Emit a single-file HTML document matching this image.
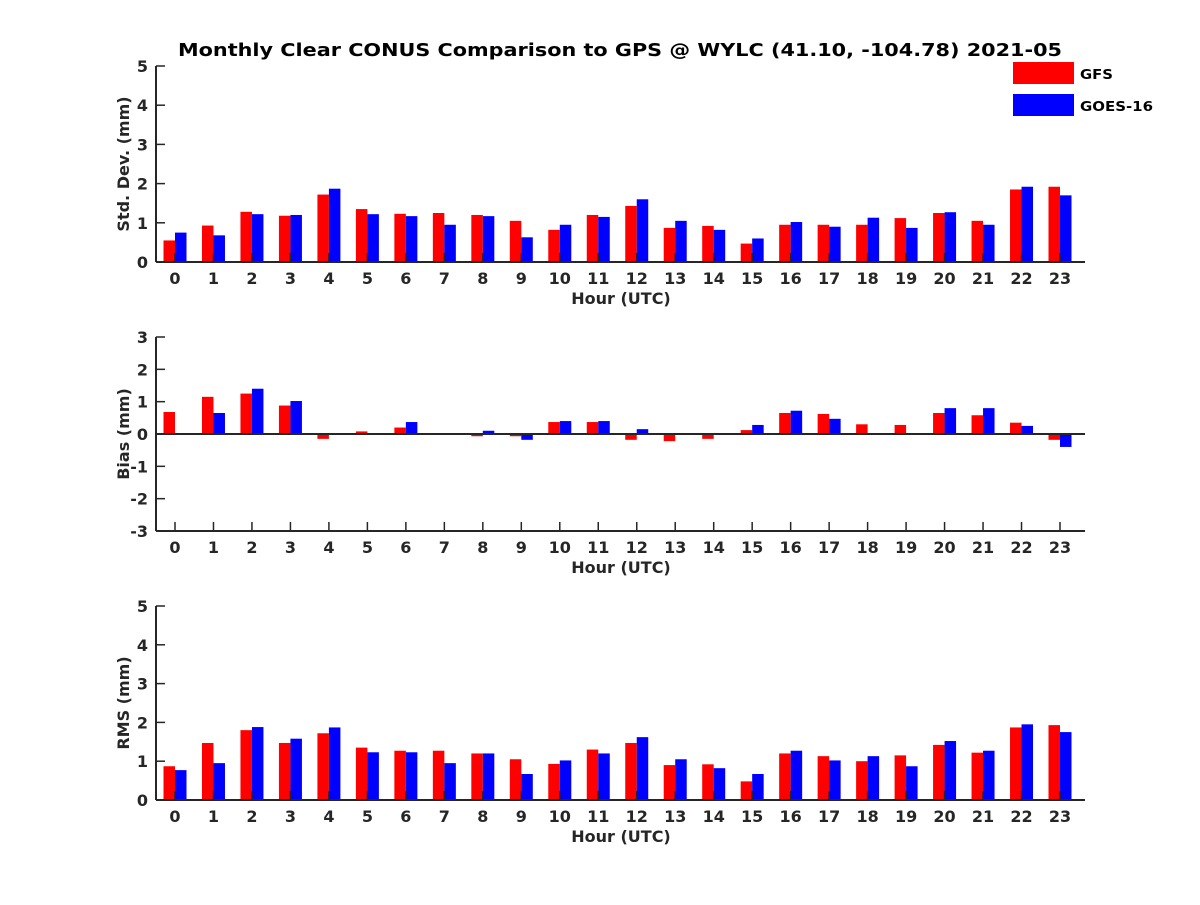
<!DOCTYPE html>
<html><head><meta charset="utf-8"><style>
body{margin:0;background:#fff}
svg text{font-family:"DejaVu Sans","Liberation Sans",sans-serif;font-weight:bold;fill:#262626}
</style></head><body>
<svg id="chart" width="1200" height="900" xmlns="http://www.w3.org/2000/svg">
<rect width="1200" height="900" fill="#fff"/>
<text x="620" y="56" text-anchor="middle" font-size="18" textLength="884" lengthAdjust="spacingAndGlyphs" style="fill:#000">Monthly Clear CONUS Comparison to GPS @ WYLC (41.10, -104.78) 2021-05</text>
<g>
<rect x="1013" y="62" width="61" height="22" fill="#ff0000"/>
<text x="1080" y="79" font-size="13" textLength="33" lengthAdjust="spacingAndGlyphs" style="fill:#000">GFS</text>
<rect x="1013" y="94" width="61" height="22" fill="#0000ff"/>
<text x="1080" y="111" font-size="13" textLength="73" lengthAdjust="spacingAndGlyphs" style="fill:#000">GOES-16</text>
</g>
</svg>
<script>
const hours = [0,1,2,3,4,5,6,7,8,9,10,11,12,13,14,15,16,17,18,19,20,21,22,23];
const stdGFS = [0.55,0.93,1.28,1.18,1.72,1.35,1.23,1.25,1.2,1.05,0.82,1.2,1.43,0.87,0.92,0.47,0.95,0.95,0.95,1.12,1.25,1.05,1.85,1.92];
const stdGOES = [0.75,0.68,1.22,1.2,1.87,1.22,1.17,0.95,1.17,0.63,0.95,1.15,1.6,1.05,0.82,0.6,1.02,0.9,1.13,0.87,1.27,0.95,1.92,1.7];
const biasGFS = [0.68,1.15,1.25,0.88,-0.15,0.08,0.2,0,-0.07,-0.07,0.37,0.37,-0.18,-0.22,-0.15,0.12,0.65,0.62,0.3,0.28,0.65,0.58,0.35,-0.18];
const biasGOES = [-0.03,0.65,1.4,1.02,0,0.02,0.37,0,0.1,-0.18,0.4,0.4,0.15,0,0,0.28,0.72,0.47,0.02,0,0.8,0.8,0.25,-0.4];
const rmsGFS = [0.87,1.47,1.8,1.47,1.72,1.35,1.27,1.27,1.2,1.05,0.93,1.3,1.47,0.9,0.92,0.48,1.2,1.13,1.0,1.15,1.42,1.22,1.87,1.93];
const rmsGOES = [0.77,0.95,1.88,1.58,1.87,1.23,1.23,0.95,1.2,0.67,1.02,1.2,1.62,1.05,0.82,0.67,1.27,1.02,1.13,0.87,1.52,1.27,1.95,1.75];
const stdTicks = [0,1,2,3,4,5];
const biasTicks = [-3,-2,-1,0,1,2,3];
const rmsTicks = [0,1,2,3,4,5];

const NS = "http://www.w3.org/2000/svg";
const svg = document.getElementById('chart');
function el(tag, attrs, parent){
  const e = document.createElementNS(NS, tag);
  for (const k in attrs) e.setAttribute(k, attrs[k]);
  (parent||svg).appendChild(e);
  return e;
}
const X0 = 156, X1 = 1085;
function xScale(h){ return 175 + h * (1060-175)/23; }

function panel(name, top, bottom, ymin, ymax, ticks, gfs, goes, ylabel){
  const g = el('g', {});
  
  
  const y = v => bottom - (v - ymin) * (bottom - top) / (ymax - ymin);
  const base = y(Math.max(ymin, Math.min(0, ymax)));
  const bw = 11.5;
  hours.forEach((h, i) => {
    const cx = xScale(h);
    [[gfs[i], cx - bw, '#ff0000', 'gfs'], [goes[i], cx, '#0000ff', 'goes']].forEach(([v, x, c, s]) => {
      const yv = y(v);
      const r = el('rect', {x: x, y: Math.min(yv, base), width: bw, height: Math.abs(yv - base), fill: c}, g);
      
      
    });
  });
  el('line', {x1: X0, y1: top, x2: X0, y2: bottom, stroke: '#262626', 'stroke-width': 2}, g);
  el('line', {x1: X0, y1: bottom, x2: X1, y2: bottom, stroke: '#262626', 'stroke-width': 2}, g);
  if (ymin < 0) el('line', {x1: X0, y1: y(0), x2: X1, y2: y(0), stroke: '#262626', 'stroke-width': 2}, g);
  ticks.forEach(t => {
    const ty = y(t);
    el('line', {x1: X0, y1: ty, x2: X0 + 9, y2: ty, stroke: '#262626', 'stroke-width': 1.5}, g);
    const tx = el('text', {x: X0 - 8, y: ty + 6, 'text-anchor': 'end', 'font-size': 16}, g);
    tx.textContent = t;
    
    
  });
  hours.forEach(h => {
    const cx = xScale(h);
    el('line', {x1: cx, y1: bottom, x2: cx, y2: bottom - 9, stroke: '#262626', 'stroke-width': 1.5}, g);
    const tx = el('text', {x: cx, y: bottom + 22, 'text-anchor': 'middle', 'font-size': 16}, g);
    tx.textContent = h;
    
    
  });
  const xl = el('text', {x: 621, y: bottom + 42, 'text-anchor': 'middle', 'font-size': 16}, g);
  xl.textContent = 'Hour (UTC)';
  
  
  const cy = (top + bottom) / 2;
  const yl = el('text', {x: 0, y: 0, 'text-anchor': 'middle', 'font-size': 16, transform: 'translate(129,' + cy + ') rotate(-90)'}, g);
  yl.textContent = ylabel;
  
  
}
panel('std-dev', 66, 262, 0, 5, stdTicks, stdGFS, stdGOES, 'Std. Dev. (mm)');
panel('bias', 337, 531, -3, 3, biasTicks, biasGFS, biasGOES, 'Bias (mm)');
panel('rms', 606, 800, 0, 5, rmsTicks, rmsGFS, rmsGOES, 'RMS (mm)');
</script>
</body></html>
